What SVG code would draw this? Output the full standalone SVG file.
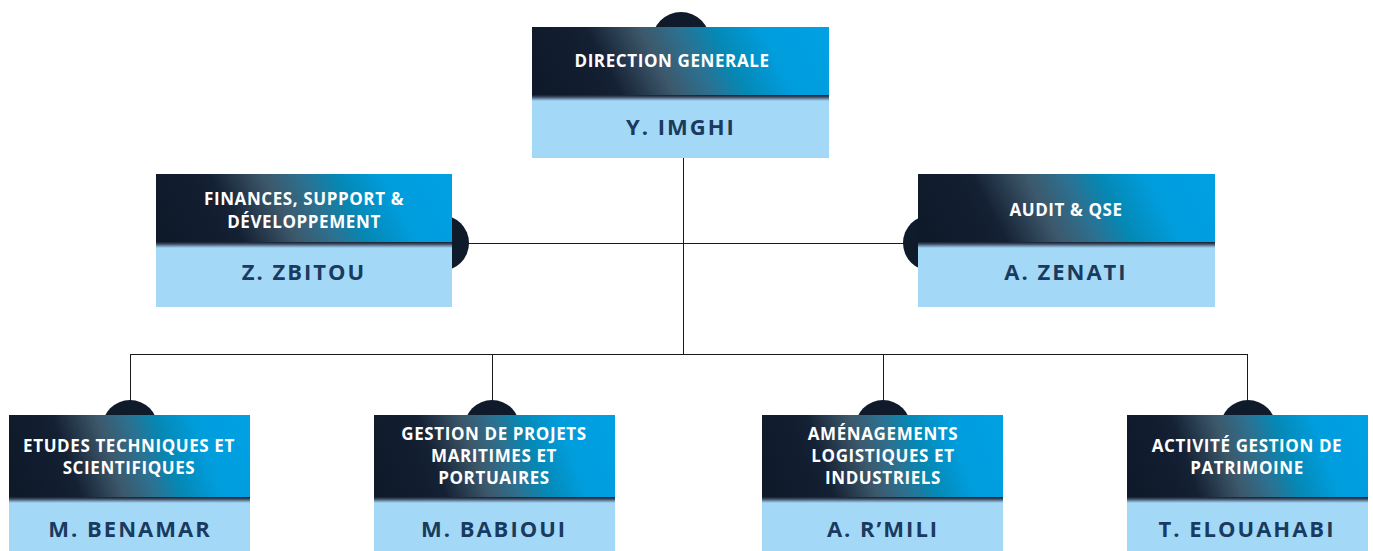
<svg xmlns="http://www.w3.org/2000/svg" width="1373" height="551" viewBox="0 0 1373 551">
<defs>
<linearGradient id="hdr" x1="0" y1="0.56" x2="1" y2="0.44">
<stop offset="0" stop-color="#0e1a29"/>
<stop offset="0.24" stop-color="#142033"/>
<stop offset="0.42" stop-color="#3d586b"/>
<stop offset="0.55" stop-color="#2c7191"/>
<stop offset="0.66" stop-color="#0588b4"/>
<stop offset="0.82" stop-color="#009ddd"/>
<stop offset="1" stop-color="#00a0e2"/>
</linearGradient>
<linearGradient id="shd" x1="0" y1="0" x2="0" y2="1">
<stop offset="0" stop-color="#151f2e"/>
<stop offset="0.35" stop-color="#3d4d63"/>
<stop offset="0.7" stop-color="#7a9cba"/>
<stop offset="1" stop-color="#a3d9f7"/>
</linearGradient>
<style>
.hdr{fill:url(#hdr)}
.shd{fill:url(#shd)}
.body{fill:#a3d9f7}
.dot{fill:#0f1b2b}
.ht{font-family:"Open Sans","Noto Sans",sans-serif;font-weight:700;font-size:17px;fill:#ffffff;text-anchor:middle;letter-spacing:0.6px}
.nt{font-family:"Open Sans","Noto Sans",sans-serif;font-weight:700;font-size:22px;fill:#1a3a5e;text-anchor:middle;letter-spacing:2px}
.ln{stroke:#1a1a1a;stroke-width:1;fill:none}
</style>
</defs>
<rect width="1373" height="551" fill="#ffffff"/>
<g id="connectors">
<path class="ln" d="M683.5 158 V354.5"/>
<path class="ln" d="M452 243.5 H918"/>
<path class="ln" d="M130.5 354.5 H1247.5"/>
<path class="ln" d="M130.5 354 V405"/>
<path class="ln" d="M492.5 354 V405"/>
<path class="ln" d="M883.5 354 V405"/>
<path class="ln" d="M1247.5 354 V405"/>
</g>
<g id="n-dg">
<circle class="dot" cx="681" cy="41" r="29"/>
<rect class="hdr" x="532" y="27" width="297" height="68"/>
<rect class="shd" x="532" y="95" width="297" height="6"/>
<rect class="body" x="532" y="101" width="297" height="57"/>
<text class="ht" x="672" y="67">DIRECTION GENERALE</text>
<text class="nt" x="681" y="135">Y. IMGHI</text>
</g>
<g id="n-fin">
<circle class="dot" cx="441" cy="243" r="28"/>
<rect class="hdr" x="156" y="174" width="296" height="68"/>
<rect class="shd" x="156" y="242" width="296" height="6"/>
<rect class="body" x="156" y="248" width="296" height="59"/>
<text class="ht" x="304" y="205">FINANCES, SUPPORT &amp;</text>
<text class="ht" x="304" y="228">DÉVELOPPEMENT</text>
<text class="nt" x="304" y="280">Z. ZBITOU</text>
</g>
<g id="n-audit">
<circle class="dot" cx="931" cy="243" r="28"/>
<rect class="hdr" x="918" y="174" width="297" height="68"/>
<rect class="shd" x="918" y="242" width="297" height="6"/>
<rect class="body" x="918" y="248" width="297" height="59"/>
<text class="ht" x="1066" y="216">AUDIT &amp; QSE</text>
<text class="nt" x="1066" y="280">A. ZENATI</text>
</g>
<g id="n-etudes">
<circle class="dot" cx="130" cy="428" r="28"/>
<rect class="hdr" x="9" y="415" width="241" height="82"/>
<rect class="shd" x="9" y="497" width="241" height="6"/>
<rect class="body" x="9" y="503" width="241" height="48"/>
<text class="ht" x="129" y="452">ETUDES TECHNIQUES ET</text>
<text class="ht" x="129" y="474">SCIENTIFIQUES</text>
<text class="nt" x="130" y="537">M. BENAMAR</text>
</g>
<g id="n-projets">
<circle class="dot" cx="492" cy="428" r="28"/>
<rect class="hdr" x="374" y="415" width="241" height="82"/>
<rect class="shd" x="374" y="497" width="241" height="6"/>
<rect class="body" x="374" y="503" width="241" height="48"/>
<text class="ht" x="494" y="440">GESTION DE PROJETS</text>
<text class="ht" x="494" y="462">MARITIMES ET</text>
<text class="ht" x="494" y="484">PORTUAIRES</text>
<text class="nt" x="494" y="537">M. BABIOUI</text>
</g>
<g id="n-amenag">
<circle class="dot" cx="883" cy="428" r="28"/>
<rect class="hdr" x="762" y="415" width="241" height="82"/>
<rect class="shd" x="762" y="497" width="241" height="6"/>
<rect class="body" x="762" y="503" width="241" height="48"/>
<text class="ht" x="883" y="440">AMÉNAGEMENTS</text>
<text class="ht" x="883" y="462">LOGISTIQUES ET</text>
<text class="ht" x="883" y="484">INDUSTRIELS</text>
<text class="nt" x="883" y="537">A. R’MILI</text>
</g>
<g id="n-patrimoine">
<circle class="dot" cx="1248" cy="428" r="28"/>
<rect class="hdr" x="1127" y="415" width="241" height="82"/>
<rect class="shd" x="1127" y="497" width="241" height="6"/>
<rect class="body" x="1127" y="503" width="241" height="48"/>
<text class="ht" x="1247" y="452">ACTIVITÉ GESTION DE</text>
<text class="ht" x="1247" y="474">PATRIMOINE</text>
<text class="nt" x="1247" y="537">T. ELOUAHABI</text>
</g>
</svg>
